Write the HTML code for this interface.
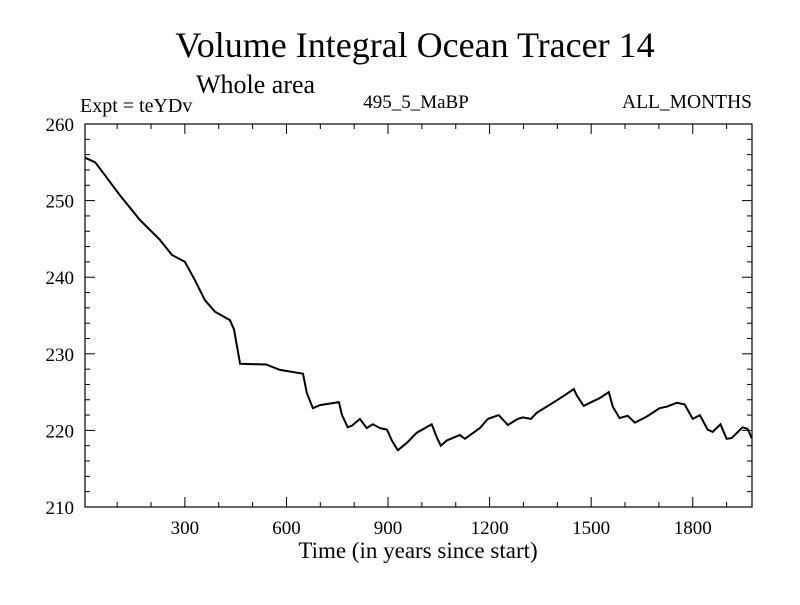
<!DOCTYPE html>
<html><head><meta charset="utf-8"><style>
body{margin:0;background:#fff}
text{font-family:"Liberation Serif",serif;fill:#000}
</style></head><body>
<svg id="chart" width="800" height="600" xmlns="http://www.w3.org/2000/svg">
<text x="415" y="57" font-size="36" text-anchor="middle">Volume Integral Ocean Tracer 14</text>
<text x="196" y="93" font-size="26">Whole area</text>
<text x="80" y="112" font-size="20">Expt = teYDv</text>
<text x="416" y="108" font-size="19" text-anchor="middle">495_5_MaBP</text>
<text x="752" y="108" font-size="19.5" text-anchor="end">ALL_MONTHS</text>
<text x="418" y="558" font-size="23" text-anchor="middle">Time (in years since start)</text>
<g id="axes"></g>
<rect x="85" y="124" width="667" height="383" fill="none" stroke="#000" stroke-width="1.2"/>
<path id="series" fill="none" stroke="#000" stroke-width="2"/>
</svg>
<script>
const years=[5,35,64,108,167,226,262,300,330,359,389,433,445,452,463,540,581,649,660,678,699,755,764,781,793,817,837,855,876,897,911,929,956,985,1029,1044,1056,1074,1112,1127,1171,1195,1227,1254,1283,1298,1322,1339,1387,1422,1449,1457,1478,1505,1525,1552,1564,1584,1608,1629,1664,1702,1723,1753,1776,1800,1821,1844,1859,1882,1900,1915,1947,1962,1974];
const values=[255.6,255,253.3,250.7,247.5,244.9,242.9,242,239.6,237,235.5,234.4,233.2,231.5,228.7,228.6,227.9,227.4,224.9,222.9,223.3,223.7,222.0,220.4,220.6,221.5,220.3,220.8,220.3,220.1,218.7,217.4,218.4,219.7,220.8,219.1,218.0,218.7,219.4,218.9,220.3,221.5,222.0,220.7,221.5,221.7,221.5,222.3,223.6,224.6,225.4,224.6,223.2,223.8,224.2,225.0,223.1,221.6,221.9,221.0,221.8,222.9,223.1,223.6,223.4,221.5,222.0,220.1,219.8,220.8,218.9,219.0,220.4,220.2,219.0];
const xTicks=[300,600,900,1200,1500,1800];
const yTicks=[210,220,230,240,250,260];
const X0=85,X1=752,Y0=507,Y1=124,xMin=5,xMax=1975,yMin=210,yMax=260;
const sx=v=>X0+(v-xMin)/(xMax-xMin)*(X1-X0);
const sy=v=>Y0-(v-yMin)/(yMax-yMin)*(Y0-Y1);
const NS="http://www.w3.org/2000/svg";
const g=document.getElementById('axes');
function ln(x1,y1,x2,y2,name){const l=document.createElementNS(NS,'line');l.setAttribute('x1',x1);l.setAttribute('y1',y1);l.setAttribute('x2',x2);l.setAttribute('y2',y2);l.setAttribute('stroke','#000');


g.appendChild(l);}
function tx(x,y,s,anchor,name){const t=document.createElementNS(NS,'text');t.setAttribute('x',x);t.setAttribute('y',y);t.setAttribute('font-size','19');t.setAttribute('text-anchor',anchor);t.textContent=s;


g.appendChild(t);}
for(let v=100;v<xMax;v+=100){const x=sx(v);const maj=v%300===0;const L=maj?10:5;ln(x,Y0,x,Y0-L,'x-tick');ln(x,Y1,x,Y1+L,'x-tick');}
xTicks.forEach(v=>tx(sx(v),534,v,'middle','x-tick-label'));
for(let v=yMin;v<=yMax;v+=2){const y=sy(v);const maj=v%10===0;const L=maj?10:5;ln(X0,y,X0+L,y,'y-tick');ln(X1,y,X1-L,y,'y-tick');}
yTicks.forEach(v=>tx(74,sy(v)+7,v,'end','y-tick-label'));
document.getElementById('series').setAttribute('d',years.map((y,i)=>(i?'L':'M')+sx(y).toFixed(1)+','+sy(values[i]).toFixed(1)).join(''));
</script>
</body></html>
